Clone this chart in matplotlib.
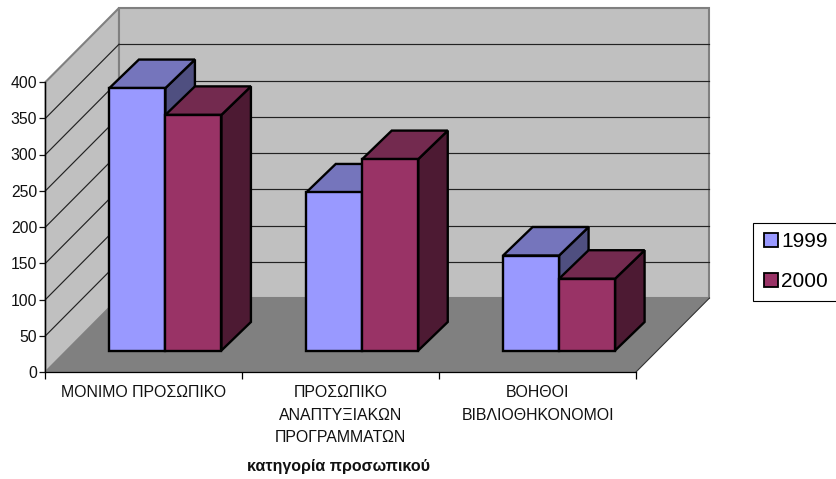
import matplotlib
matplotlib.use("Agg")
import matplotlib.pyplot as plt
from matplotlib.patches import Polygon
from matplotlib.lines import Line2D

plt.rcParams['font.family'] = ['Liberation Sans', 'DejaVu Sans']

categories = ["ΜΟΝΙΜΟ ΠΡΟΣΩΠΙΚΟ", "ΠΡΟΣΩΠΙΚΟ\nΑΝΑΠΤΥΞΙΑΚΩΝ\nΠΡΟΓΡΑΜΜΑΤΩΝ", "ΒΟΗΘΟΙ\nΒΙΒΛΙΟΘΗΚΟΝΟΜΟΙ"]
years = ["1999", "2000"]
values_1999 = [362, 218, 131]
values_2000 = [325, 264, 99]
y_ticks = [0, 50, 100, 150, 200, 250, 300, 350, 400]

# (front, top, side) shades per series
colors_1999 = ("#9999FF", "#7575BC", "#4F4F80")
colors_2000 = ("#993366", "#732A4F", "#4D1A33")

WALL = "#C0C0C0"
FLOOR = "#808080"

W, H = 837, 479
fig = plt.figure(figsize=(W / 100, H / 100), dpi=100, facecolor="white")
# the axes box is the front plane of the 3D frame
ax = fig.add_axes([45.5 / W, (H - 372) / H, 590.5 / W, 290 / H])
ax.set_xlim(0, 3)
ax.set_ylim(0, 400)
ax.patch.set_visible(False)

px_x = 3 / 590.5   # data units per pixel
px_y = 400 / 290
depth_x = 73.5 * px_x
depth_y = 74 * px_y


def poly(pts, fc, ec="black", lw=1.7, z=3):
    ax.add_patch(Polygon(pts, closed=True, facecolor=fc, edgecolor=ec, linewidth=lw,
                         zorder=z, clip_on=False, joinstyle="miter"))


# walls and floor
poly([(0, 0), (depth_x, depth_y), (depth_x, 400 + depth_y), (0, 400)], WALL, "#808080", 1.5, 1)
poly([(depth_x, depth_y), (3 + depth_x, depth_y), (3 + depth_x, 400 + depth_y), (depth_x, 400 + depth_y)],
     WALL, "#808080", 1.5, 1)
poly([(0, 0), (3, 0), (3 + depth_x, depth_y), (depth_x, depth_y)], FLOOR, "none", 0, 1.5)
ax.plot([3, 3 + depth_x], [0, depth_y], color="#333333", lw=0.8, zorder=1.6, clip_on=False)

# gridlines, 400 is the top edge of the walls
for v in y_ticks[1:-1]:
    ax.plot([0, depth_x], [v, v + depth_y], color="#222222", lw=0.85, zorder=2, clip_on=False)
    ax.plot([depth_x, 3 + depth_x], [v + depth_y, v + depth_y], color="#222222", lw=0.85, zorder=2, clip_on=False)

# bars
bar_w = 56 * px_x
bar_dx = 29.5 * px_x
bar_dy = 28.5 * px_y
off_x = 21.5 * px_x
off_y = 21.5 * px_y


def bar3d(x0, val, shades):
    x1 = x0 + bar_w
    top = off_y + val
    poly([(x1, off_y), (x1 + bar_dx, off_y + bar_dy), (x1 + bar_dx, top + bar_dy), (x1, top)], shades[2])
    poly([(x0, top), (x1, top), (x1 + bar_dx, top + bar_dy), (x0 + bar_dx, top + bar_dy)], shades[1])
    poly([(x0, off_y), (x1, off_y), (x1, top), (x0, top)], shades[0])


for i in range(len(categories)):
    centre = i + 0.5 + off_x
    bar3d(centre - bar_w, values_1999[i], colors_1999)
    bar3d(centre, values_2000[i], colors_2000)

# axes furniture
for s in ("top", "right"):
    ax.spines[s].set_visible(False)
for s in ("left", "bottom"):
    ax.spines[s].set_linewidth(0.9)
    ax.spines[s].set_zorder(6)
ax.set_yticks(y_ticks)
ax.tick_params(axis="y", labelsize=11.3, length=4, width=0.9, pad=2, colors="#111111")
ax.set_xticks([0, 1, 2, 3])
ax.set_xticklabels([])
ax.tick_params(axis="x", which="major", length=5, width=0.9)
ax.set_xticks([0.5, 1.5, 2.5], minor=True)
ax.set_xticklabels(categories, minor=True, fontsize=11.4, color="#111111", linespacing=1.62, va="top")
ax.tick_params(axis="x", which="minor", length=0, pad=9.5)

fig.text(339 / W, 1 - 467 / H, "κατηγορία προσωπικού", fontsize=11.5, fontweight="bold",
         ha="center", va="center", color="#111111")

# legend
handles = [Line2D([], [], linestyle="none", marker="s", markersize=10.5, markerfacecolor=c[0],
                  markeredgecolor="black", markeredgewidth=1.3) for c in (colors_1999, colors_2000)]
leg = fig.legend(handles, years, loc="upper left", bbox_to_anchor=(753 / W, 1 - 222.5 / H),
                 bbox_transform=fig.transFigure, fontsize=15, frameon=True, fancybox=False,
                 edgecolor="black", framealpha=1, borderpad=0.46, labelspacing=1.0,
                 handletextpad=0.1, handlelength=0.8, borderaxespad=0)
leg.get_frame().set_linewidth(0.8)

fig.savefig("out.png", dpi=100)
